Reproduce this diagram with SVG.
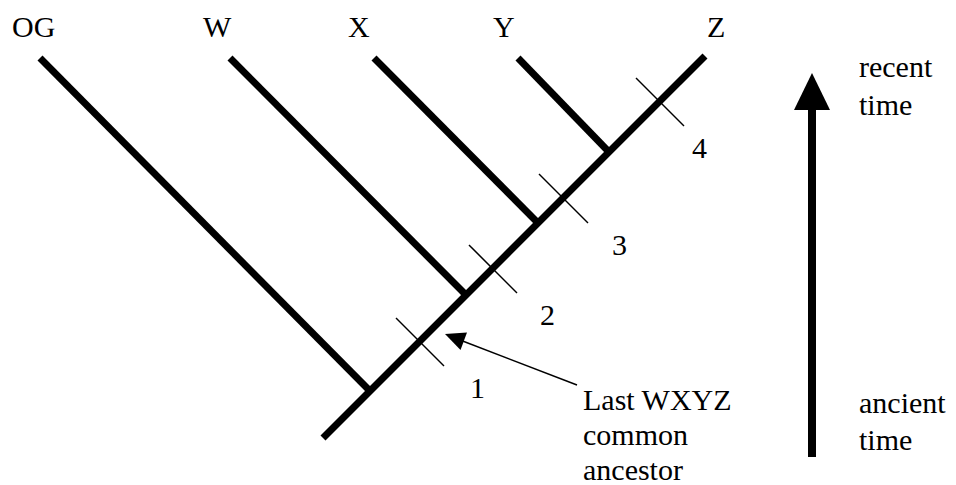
<svg xmlns="http://www.w3.org/2000/svg" width="956" height="485" viewBox="0 0 956 485">
<style>
text{font-family:'Liberation Serif','Times New Roman',serif;font-size:30px;fill:#000}
.br{stroke:#000;stroke-width:7;stroke-linecap:butt;fill:none}
.tk{stroke:#000;stroke-width:1.5;fill:none}
</style>
<rect width="956" height="485" fill="#fff"/>
<g id="connectors">
<line class="br" x1="323" y1="438" x2="705" y2="56"/>
<line class="br" x1="40" y1="58" x2="370" y2="391"/>
<line class="br" x1="230" y1="58" x2="466" y2="295"/>
<line class="br" x1="374" y1="58" x2="538" y2="223"/>
<line class="br" x1="518" y1="58" x2="609" y2="152"/>
<line class="tk" x1="396" y1="318" x2="444" y2="366"/>
<line class="tk" x1="469" y1="245" x2="517" y2="293"/>
<line class="tk" x1="539" y1="174" x2="588" y2="223"/>
<line class="tk" x1="636" y1="78" x2="684" y2="126"/>
<line x1="460" y1="340" x2="577" y2="385" stroke="#000" stroke-width="1.5"/>
<polygon points="445,334 467,332.5 460.5,350" fill="#000"/>
<rect x="808" y="108" width="8" height="349" fill="#000"/>
<polygon points="812,73 794,110 830,110" fill="#000"/>
</g>
<g id="node-OG"><text x="12" y="37">OG</text></g>
<g id="node-W"><text x="203" y="37">W</text></g>
<g id="node-X"><text x="348" y="37">X</text></g>
<g id="node-Y"><text x="493" y="37">Y</text></g>
<g id="node-Z"><text x="707" y="37">Z</text></g>
<g id="tick-1"><text x="470" y="398">1</text></g>
<g id="tick-2"><text x="540" y="325">2</text></g>
<g id="tick-3"><text x="612" y="255">3</text></g>
<g id="tick-4"><text x="692" y="158">4</text></g>
<g id="ancestor-label"><text x="583" y="410">Last WXYZ</text><text x="583" y="445">common</text><text x="583" y="480">ancestor</text></g>
<g id="time-label"><text x="859" y="77">recent</text><text x="859" y="115">time</text><text x="859" y="413">ancient</text><text x="859" y="450">time</text></g>
</svg>
